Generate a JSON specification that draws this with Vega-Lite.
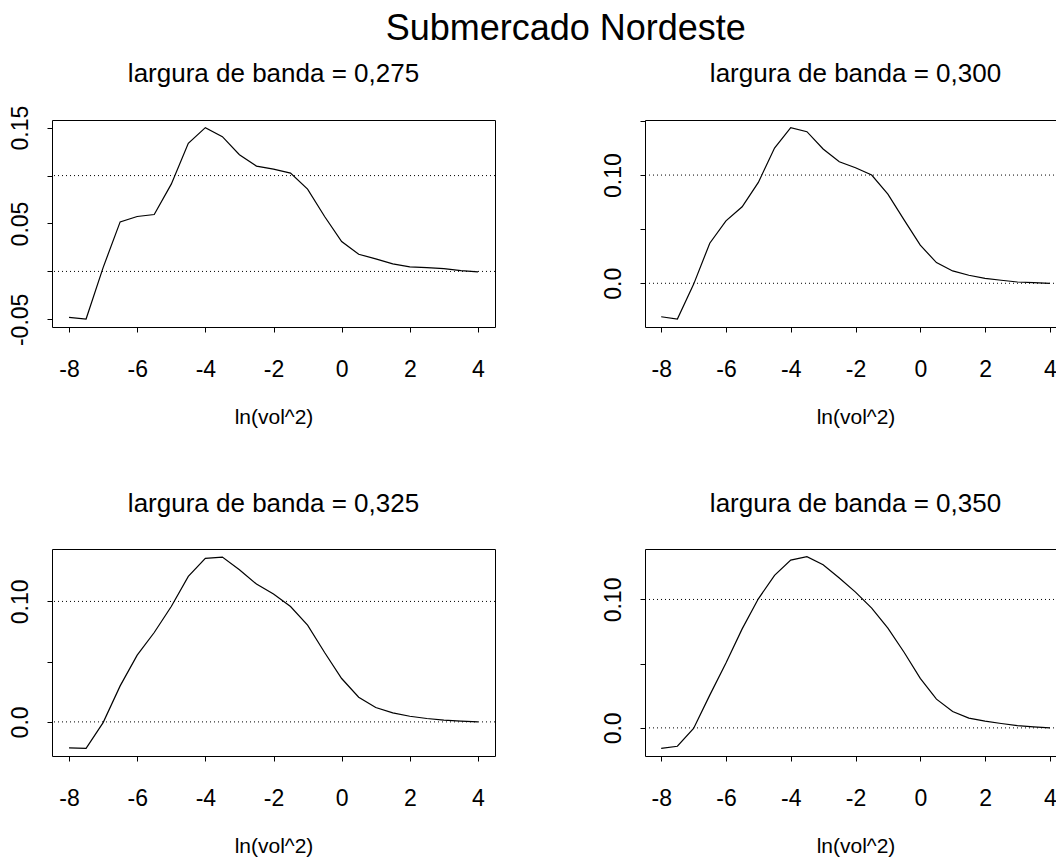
{
"$schema": "https://vega.github.io/schema/vega-lite/v6.json",
"background": "white",
"padding": {"left": 8, "top": 10, "right": 0, "bottom": 0},
"title": {"text": "Submercado Nordeste", "fontSize": 36, "offset": -15, "dx": 28, "anchor": "middle", "baseline": "alphabetic"},
"bounds": "flush",
"columns": 2,
"spacing": {"row": 222, "column": 150},
"datasets": {
"refs": [{"h": 0}, {"h": 0.1}],
"dens": [
{"bw":"0,275","x":-8,"y":-0.048},{"bw":"0,275","x":-7.5,"y":-0.0497},{"bw":"0,275","x":-7,"y":0.004},{"bw":"0,275","x":-6.5,"y":0.0517},{"bw":"0,275","x":-6,"y":0.0573},{"bw":"0,275","x":-5.5,"y":0.0594},{"bw":"0,275","x":-5,"y":0.0911},{"bw":"0,275","x":-4.5,"y":0.1336},{"bw":"0,275","x":-4,"y":0.150},{"bw":"0,275","x":-3.5,"y":0.1406},{"bw":"0,275","x":-3,"y":0.1218},{"bw":"0,275","x":-2.5,"y":0.1099},{"bw":"0,275","x":-2,"y":0.1068},{"bw":"0,275","x":-1.5,"y":0.1026},{"bw":"0,275","x":-1,"y":0.0859},{"bw":"0,275","x":-0.5,"y":0.0573},{"bw":"0,275","x":0,"y":0.0312},{"bw":"0,275","x":0.5,"y":0.0179},{"bw":"0,275","x":1,"y":0.0131},{"bw":"0,275","x":1.5,"y":0.0078},{"bw":"0,275","x":2,"y":0.0047},{"bw":"0,275","x":2.5,"y":0.004},{"bw":"0,275","x":3,"y":0.003},{"bw":"0,275","x":3.5,"y":0.0009},{"bw":"0,275","x":4,"y":-0.0005},
{"bw":"0,300","x":-8,"y":-0.0309},{"bw":"0,300","x":-7.5,"y":-0.033},{"bw":"0,300","x":-7,"y":-0.001},{"bw":"0,300","x":-6.5,"y":0.037},{"bw":"0,300","x":-6,"y":0.0577},{"bw":"0,300","x":-5.5,"y":0.0707},{"bw":"0,300","x":-5,"y":0.0932},{"bw":"0,300","x":-4.5,"y":0.125},{"bw":"0,300","x":-4,"y":0.1438},{"bw":"0,300","x":-3.5,"y":0.1401},{"bw":"0,300","x":-3,"y":0.1241},{"bw":"0,300","x":-2.5,"y":0.1123},{"bw":"0,300","x":-2,"y":0.1068},{"bw":"0,300","x":-1.5,"y":0.100},{"bw":"0,300","x":-1,"y":0.0824},{"bw":"0,300","x":-0.5,"y":0.0586},{"bw":"0,300","x":0,"y":0.0352},{"bw":"0,300","x":0.5,"y":0.0191},{"bw":"0,300","x":1,"y":0.0114},{"bw":"0,300","x":1.5,"y":0.0074},{"bw":"0,300","x":2,"y":0.0046},{"bw":"0,300","x":2.5,"y":0.0028},{"bw":"0,300","x":3,"y":0.0012},{"bw":"0,300","x":3.5,"y":0.0006},{"bw":"0,300","x":4,"y":0.0},
{"bw":"0,325","x":-8,"y":-0.0216},{"bw":"0,325","x":-7.5,"y":-0.0219},{"bw":"0,325","x":-7,"y":-0.0006},{"bw":"0,325","x":-6.5,"y":0.0299},{"bw":"0,325","x":-6,"y":0.0554},{"bw":"0,325","x":-5.5,"y":0.0742},{"bw":"0,325","x":-5,"y":0.0958},{"bw":"0,325","x":-4.5,"y":0.1208},{"bw":"0,325","x":-4,"y":0.1357},{"bw":"0,325","x":-3.5,"y":0.1368},{"bw":"0,325","x":-3,"y":0.1263},{"bw":"0,325","x":-2.5,"y":0.1144},{"bw":"0,325","x":-2,"y":0.1061},{"bw":"0,325","x":-1.5,"y":0.0958},{"bw":"0,325","x":-1,"y":0.0803},{"bw":"0,325","x":-0.5,"y":0.0576},{"bw":"0,325","x":0,"y":0.036},{"bw":"0,325","x":0.5,"y":0.0205},{"bw":"0,325","x":1,"y":0.0119},{"bw":"0,325","x":1.5,"y":0.0075},{"bw":"0,325","x":2,"y":0.0047},{"bw":"0,325","x":2.5,"y":0.0028},{"bw":"0,325","x":3,"y":0.0014},{"bw":"0,325","x":3.5,"y":0.0006},{"bw":"0,325","x":4,"y":0.0},
{"bw":"0,350","x":-8,"y":-0.0159},{"bw":"0,350","x":-7.5,"y":-0.0143},{"bw":"0,350","x":-7,"y":-0.0005},{"bw":"0,350","x":-6.5,"y":0.0255},{"bw":"0,350","x":-6,"y":0.0505},{"bw":"0,350","x":-5.5,"y":0.0771},{"bw":"0,350","x":-5,"y":0.1005},{"bw":"0,350","x":-4.5,"y":0.1188},{"bw":"0,350","x":-4,"y":0.1307},{"bw":"0,350","x":-3.5,"y":0.1333},{"bw":"0,350","x":-3,"y":0.1271},{"bw":"0,350","x":-2.5,"y":0.1167},{"bw":"0,350","x":-2,"y":0.1057},{"bw":"0,350","x":-1.5,"y":0.0932},{"bw":"0,350","x":-1,"y":0.0776},{"bw":"0,350","x":-0.5,"y":0.0589},{"bw":"0,350","x":0,"y":0.0385},{"bw":"0,350","x":0.5,"y":0.0224},{"bw":"0,350","x":1,"y":0.0128},{"bw":"0,350","x":1.5,"y":0.0076},{"bw":"0,350","x":2,"y":0.0052},{"bw":"0,350","x":2.5,"y":0.0034},{"bw":"0,350","x":3,"y":0.0018},{"bw":"0,350","x":3.5,"y":0.0008},{"bw":"0,350","x":4,"y":0.0}
]
},
"concat": [
{
"width": 443, "height": 207,
"title": {"text": "largura de banda = 0,275", "offset": 18},
"layer": [
{"data": {"name": "refs"}, "mark": {"type": "rule", "color": "black", "strokeDash": [1, 3], "strokeWidth": 1},
 "encoding": {"y": {"field": "h", "type": "quantitative", "scale": {"domain": [-0.058, 0.158], "nice": false, "zero": false}, "axis": {"title": null, "values": [-0.05, 0, 0.05, 0.1, 0.15], "labelExpr": "datum.value == 0.15 ? '0.15' : datum.value == 0.05 ? '0.05' : datum.value == -0.05 ? '-0.05' : ''"}}}},
{"data": {"name": "dens"}, "transform": [{"filter": "datum.bw == '0,275'"}], "mark": {"type": "line", "color": "black", "strokeWidth": 1.2},
 "encoding": {
  "x": {"field": "x", "type": "quantitative", "scale": {"domain": [-8.5, 4.5], "nice": false, "zero": false}, "axis": {"title": "ln(vol^2)", "values": [-8, -6, -4, -2, 0, 2, 4], "labelExpr": "'' + datum.value"}},
  "y": {"field": "y", "type": "quantitative", "scale": {"domain": [-0.058, 0.158], "nice": false, "zero": false}, "axis": {"title": null, "values": [-0.05, 0, 0.05, 0.1, 0.15], "labelExpr": "datum.value == 0.15 ? '0.15' : datum.value == 0.05 ? '0.05' : datum.value == -0.05 ? '-0.05' : ''"}}
 }}
]
},
{
"width": 421, "height": 207,
"title": {"text": "largura de banda = 0,300", "offset": 33},
"layer": [
{"data": {"name": "refs"}, "mark": {"type": "rule", "color": "black", "strokeDash": [1, 3], "strokeWidth": 1},
 "encoding": {"y": {"field": "h", "type": "quantitative", "scale": {"domain": [-0.0404, 0.1509], "nice": false, "zero": false}, "axis": {"title": null, "values": [0, 0.05, 0.1, 0.15], "labelExpr": "datum.value == 0 ? '0.0' : datum.value == 0.1 ? '0.10' : ''"}}}},
{"data": {"name": "dens"}, "transform": [{"filter": "datum.bw == '0,300'"}], "mark": {"type": "line", "color": "black", "strokeWidth": 1.2},
 "encoding": {
  "x": {"field": "x", "type": "quantitative", "scale": {"domain": [-8.5, 4.5], "nice": false, "zero": false}, "axis": {"title": "ln(vol^2)", "values": [-8, -6, -4, -2, 0, 2, 4], "labelExpr": "'' + datum.value"}},
  "y": {"field": "y", "type": "quantitative", "scale": {"domain": [-0.0404, 0.1509], "nice": false, "zero": false}, "axis": {"title": null, "values": [0, 0.05, 0.1, 0.15], "labelExpr": "datum.value == 0 ? '0.0' : datum.value == 0.1 ? '0.10' : ''"}}
 }}
]
},
{
"width": 443, "height": 207,
"title": {"text": "largura de banda = 0,325", "offset": 32},
"layer": [
{"data": {"name": "refs"}, "mark": {"type": "rule", "color": "black", "strokeDash": [1, 3], "strokeWidth": 1},
 "encoding": {"y": {"field": "h", "type": "quantitative", "scale": {"domain": [-0.0283, 0.1435], "nice": false, "zero": false}, "axis": {"title": null, "values": [0, 0.05, 0.1], "labelExpr": "datum.value == 0 ? '0.0' : datum.value == 0.1 ? '0.10' : ''"}}}},
{"data": {"name": "dens"}, "transform": [{"filter": "datum.bw == '0,325'"}], "mark": {"type": "line", "color": "black", "strokeWidth": 1.2},
 "encoding": {
  "x": {"field": "x", "type": "quantitative", "scale": {"domain": [-8.5, 4.5], "nice": false, "zero": false}, "axis": {"title": "ln(vol^2)", "values": [-8, -6, -4, -2, 0, 2, 4], "labelExpr": "'' + datum.value"}},
  "y": {"field": "y", "type": "quantitative", "scale": {"domain": [-0.0283, 0.1435], "nice": false, "zero": false}, "axis": {"title": null, "values": [0, 0.05, 0.1], "labelExpr": "datum.value == 0 ? '0.0' : datum.value == 0.1 ? '0.10' : ''"}}
 }}
]
},
{
"width": 421, "height": 207,
"title": {"text": "largura de banda = 0,350", "offset": 32},
"layer": [
{"data": {"name": "refs"}, "mark": {"type": "rule", "color": "black", "strokeDash": [1, 3], "strokeWidth": 1},
 "encoding": {"y": {"field": "h", "type": "quantitative", "scale": {"domain": [-0.0219, 0.1393], "nice": false, "zero": false}, "axis": {"title": null, "values": [0, 0.05, 0.1], "labelExpr": "datum.value == 0 ? '0.0' : datum.value == 0.1 ? '0.10' : ''"}}}},
{"data": {"name": "dens"}, "transform": [{"filter": "datum.bw == '0,350'"}], "mark": {"type": "line", "color": "black", "strokeWidth": 1.2},
 "encoding": {
  "x": {"field": "x", "type": "quantitative", "scale": {"domain": [-8.5, 4.5], "nice": false, "zero": false}, "axis": {"title": "ln(vol^2)", "values": [-8, -6, -4, -2, 0, 2, 4], "labelExpr": "'' + datum.value"}},
  "y": {"field": "y", "type": "quantitative", "scale": {"domain": [-0.0219, 0.1393], "nice": false, "zero": false}, "axis": {"title": null, "values": [0, 0.05, 0.1], "labelExpr": "datum.value == 0 ? '0.0' : datum.value == 0.1 ? '0.10' : ''"}}
 }}
]
}
],
"config": {
 "font": "Liberation Sans",
 "view": {"stroke": "black", "strokeWidth": 1, "fill": "white"},
 "axis": {"domain": false, "grid": false, "ticks": true, "tickColor": "black", "tickSize": 5, "tickWidth": 1, "labelColor": "black", "labelFontSize": 23, "labelFont": "Liberation Sans", "titleColor": "black", "titleFont": "Liberation Sans", "titleFontWeight": "normal", "titleFontSize": 21, "labelFlush": false, "labelOverlap": false},
 "axisX": {"labelPadding": 26, "labelBaseline": "top", "titlePadding": 25, "labelAngle": 0},
 "axisY": {"labelAngle": 270, "labelAlign": "center", "labelBaseline": "alphabetic", "labelPadding": 20},
 "title": {"fontSize": 26, "fontWeight": "normal", "color": "black", "font": "Liberation Sans", "baseline": "alphabetic", "offset": 38, "anchor": "middle"}
}
}
